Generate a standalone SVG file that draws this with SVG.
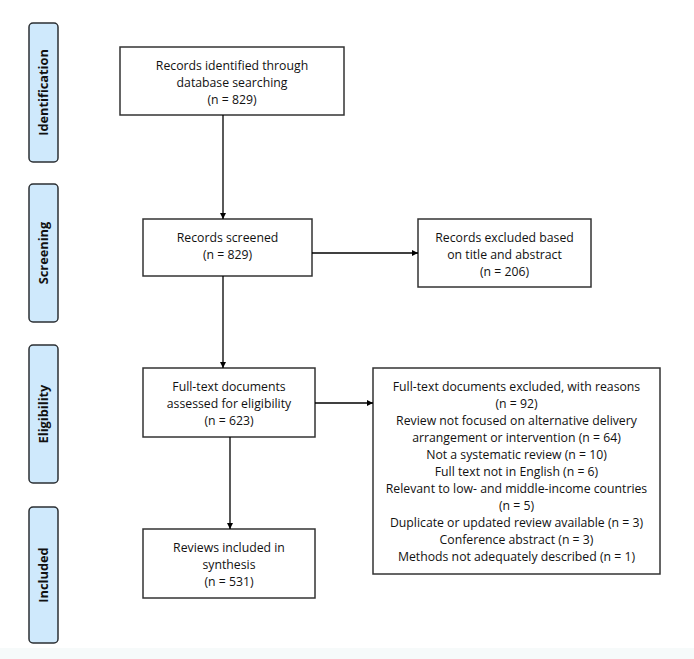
<svg xmlns="http://www.w3.org/2000/svg" width="694" height="659" viewBox="0 0 694 659">
<style>
.stage{fill:#cfe9fc;stroke:#2b2f33;stroke-width:1.5}
.stxt{font-family:"Open Sans","Liberation Sans",sans-serif;font-weight:bold;font-size:12.8px;fill:#111;text-anchor:middle}
.box{fill:#fff;stroke:#333;stroke-width:1.5}
.t{font-family:"Open Sans","Liberation Sans",sans-serif;font-size:12.25px;fill:#111;text-anchor:middle}
.c{stroke:#000;stroke-width:1.3;fill:none;marker-end:url(#ah)}
</style>
<defs>
<marker id="ah" viewBox="0 0 10 10" refX="10" refY="5" markerWidth="6" markerHeight="6" orient="auto" markerUnits="userSpaceOnUse"><path d="M0,0 L10,5 L0,10 z" fill="#000"/></marker>
</defs>
<rect x="0" y="0" width="694" height="659" fill="#fff"/>
<rect x="0" y="648" width="694" height="11" fill="#f6fafa"/>
<g id="stage-identification"><rect class="stage" x="29" y="23" width="29" height="139" rx="4"/><text class="stxt" transform="translate(48,92.5) rotate(-90)">Identification</text></g>
<g id="stage-screening"><rect class="stage" x="29" y="184" width="29" height="138" rx="4"/><text class="stxt" transform="translate(48,253) rotate(-90)">Screening</text></g>
<g id="stage-eligibility"><rect class="stage" x="29" y="345" width="29" height="138" rx="4"/><text class="stxt" transform="translate(48,414) rotate(-90)">Eligibility</text></g>
<g id="stage-included"><rect class="stage" x="29" y="507" width="29" height="136" rx="4"/><text class="stxt" transform="translate(48,575) rotate(-90)">Included</text></g>
<g id="identified"><rect class="box" x="120" y="47" width="224" height="68"/>
<text class="t" x="232" y="69.5">Records identified through</text>
<text class="t" x="232" y="86.5">database searching</text>
<text class="t" x="232" y="103.5">(n = 829)</text></g>
<g id="screened"><rect class="box" x="143" y="219" width="169" height="57"/>
<text class="t" x="227.5" y="241.5">Records screened</text>
<text class="t" x="227.5" y="258.5">(n = 829)</text></g>
<g id="excluded-screen"><rect class="box" x="418" y="219" width="173" height="68"/>
<text class="t" x="504.5" y="241.5">Records excluded based</text>
<text class="t" x="504.5" y="258.5">on title and abstract</text>
<text class="t" x="504.5" y="275.5">(n = 206)</text></g>
<g id="eligibility"><rect class="box" x="143" y="368" width="172" height="69"/>
<text class="t" x="229" y="390.5">Full-text documents</text>
<text class="t" x="229" y="407.5">assessed for eligibility</text>
<text class="t" x="229" y="424.5">(n = 623)</text></g>
<g id="excluded-fulltext"><rect class="box" x="373" y="368" width="287" height="206"/>
<text class="t" x="516.5" y="390.5">Full-text documents excluded, with reasons</text>
<text class="t" x="516.5" y="407.5">(n = 92)</text>
<text class="t" x="516.5" y="424.5">Review not focused on alternative delivery</text>
<text class="t" x="516.5" y="441.5">arrangement or intervention (n = 64)</text>
<text class="t" x="516.5" y="458.5">Not a systematic review (n = 10)</text>
<text class="t" x="516.5" y="475.5">Full text not in English (n = 6)</text>
<text class="t" x="516.5" y="492.5">Relevant to low- and middle-income countries</text>
<text class="t" x="516.5" y="509.5">(n = 5)</text>
<text class="t" x="516.5" y="526.5">Duplicate or updated review available (n = 3)</text>
<text class="t" x="516.5" y="543.5">Conference abstract (n = 3)</text>
<text class="t" x="516.5" y="560.5">Methods not adequately described (n = 1)</text></g>
<g id="included"><rect class="box" x="143" y="529" width="172" height="69"/>
<text class="t" x="229" y="551.5">Reviews included in</text>
<text class="t" x="229" y="568.5">synthesis</text>
<text class="t" x="229" y="585.5">(n = 531)</text></g>
<g id="connectors">
<line class="c" x1="223" y1="115" x2="223" y2="219"/>
<line class="c" x1="312" y1="253" x2="418" y2="253"/>
<line class="c" x1="223" y1="276" x2="223" y2="368"/>
<line class="c" x1="315" y1="403" x2="373" y2="403"/>
<line class="c" x1="230" y1="437" x2="230" y2="529"/>
</g>
</svg>
